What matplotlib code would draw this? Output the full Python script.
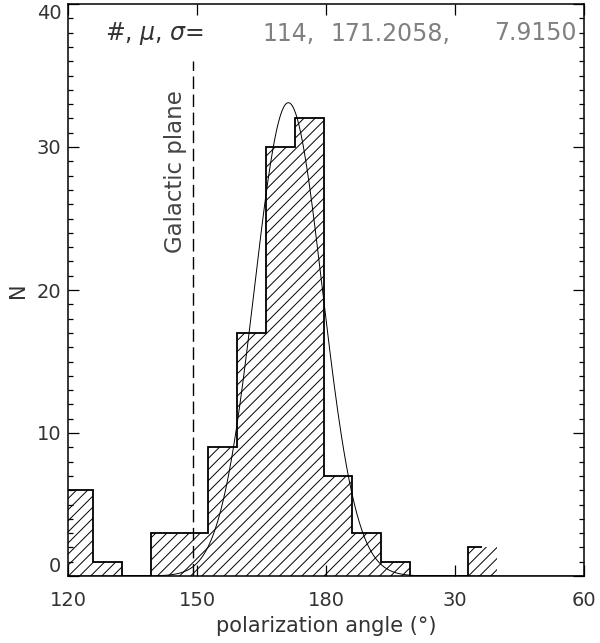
import matplotlib
matplotlib.use("Agg")
import matplotlib.pyplot as plt
from matplotlib.ticker import MultipleLocator, FixedLocator
import numpy as np

# histogram of polarization angles (deg), wrapped at 180
bin_start = 119.03
bin_width = 6.71
counts = [6, 1, 0, 3, 3, 9, 17, 30, 32, 7, 3, 1, 0, 0, 2]

# gaussian fit + stats shown in the header
n_obj = 114
mu = 171.2058
sigma = 7.9150
amp = 33.1

galactic_plane = 149.0

xtick_pos = [120, 150, 180, 210, 240]
xtick_lab = ['120', '150', '180', '30', '60']
ytick_pos = [0, 10, 20, 30, 40]

plt.rcParams['font.family'] = ['DejaVu Sans']
plt.rcParams['hatch.linewidth'] = 0.7
plt.rcParams['mathtext.fontset'] = 'dejavusans'

edges = bin_start + bin_width * np.arange(len(counts) + 1)

fig = plt.figure(figsize=(6, 6.43), dpi=100)
ax = fig.add_axes([68.3/600, 67/643, (584-68.3)/600, 572/643])

ax.bar(edges[:-1], counts, width=bin_width, align='edge', facecolor='none',
       edgecolor='black', linewidth=0, hatch='///')
# IDL-style outline: stops at centre of last bin
out_edges = edges.copy()
out_edges[-1] = edges[-2] + bin_width / 2
ax.stairs(counts, out_edges, baseline=None, color='black', linewidth=1.3)

xg = np.linspace(120, 240, 600)
ax.plot(xg, amp * np.exp(-(xg - mu)**2 / (2 * sigma**2)), color='black', linewidth=0.7)

ax.plot([galactic_plane, galactic_plane], [0, 36], color='black', linewidth=1.0,
        linestyle=(0, (9, 4)))
ax.text(145.0, 28.3, 'Galactic plane', rotation=90, ha='center', va='center',
        fontsize=16.5, color='#444444')

ax.set_xlim(120, 240)
ax.set_ylim(0, 40)
ax.xaxis.set_major_locator(FixedLocator(xtick_pos))
ax.set_xticklabels(xtick_lab)
ax.yaxis.set_major_locator(FixedLocator(ytick_pos))
ax.yaxis.set_minor_locator(MultipleLocator(1))
ax.tick_params(which='both', direction='in', top=True, right=True, width=0.9,
               labelsize=14, labelcolor='#333333')
ax.tick_params(which='major', length=8)
ax.tick_params(which='minor', length=3.6)
ax.tick_params(axis='x', pad=11)
ax.tick_params(axis='y', pad=5)
for s in ax.spines.values():
    s.set_linewidth(1.1)

yt = ax.yaxis.get_major_ticks()
yt[0].label1.set_verticalalignment('bottom')
yt[-1].label1.set_verticalalignment('top')

ax.set_xlabel('polarization angle (°)', fontsize=15, color='#333333', labelpad=4)
ax.set_ylabel('N', fontsize=15, color='#333333', labelpad=6)

hy = 1 - 33.5/643
fig.text(105/600, hy, r'#, $\mu$, $\sigma$=', fontsize=17, ha='left',
         va='center', color='#333333')
fig.text(262/600, hy, '%d,' % n_obj, fontsize=17, ha='left', va='center', color='#808080')
fig.text(330/600, hy, '%.4f,' % mu, fontsize=17, ha='left', va='center', color='#808080')
fig.text(577/600, hy, '%.4f' % sigma, fontsize=17, ha='right', va='center', color='#808080')

fig.savefig('out.png', dpi=100)
